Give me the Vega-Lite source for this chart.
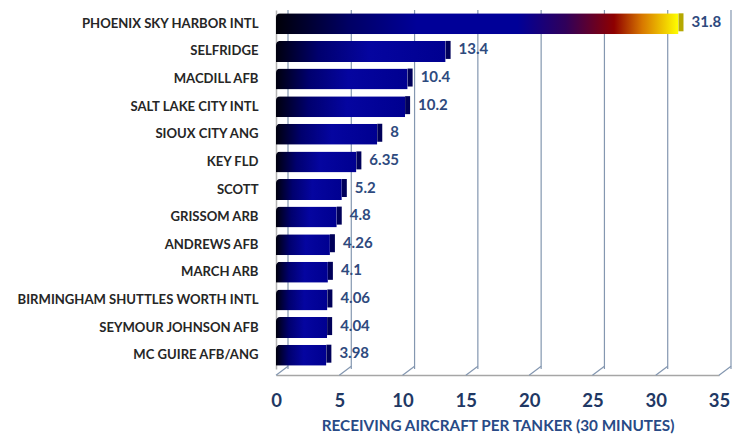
{
  "$schema": "https://vega.github.io/schema/vega-lite/v6.json",
  "width": 443,
  "height": 359,
  "autosize": {"type": "none"},
  "padding": {"left": 276, "top": 10, "right": 32, "bottom": 70},
  "background": "white",
  "config": {"view": {"stroke": null}, "font": "Lato"},
  "datasets": {
    "bars": [
      {"airport": "PHOENIX SKY HARBOR INTL", "value": 31.8, "label": "31.8"},
      {"airport": "SELFRIDGE", "value": 13.4, "label": "13.4"},
      {"airport": "MACDILL AFB", "value": 10.4, "label": "10.4"},
      {"airport": "SALT LAKE CITY INTL", "value": 10.2, "label": "10.2"},
      {"airport": "SIOUX CITY ANG", "value": 8, "label": "8"},
      {"airport": "KEY FLD", "value": 6.35, "label": "6.35"},
      {"airport": "SCOTT", "value": 5.2, "label": "5.2"},
      {"airport": "GRISSOM ARB", "value": 4.8, "label": "4.8"},
      {"airport": "ANDREWS AFB", "value": 4.26, "label": "4.26"},
      {"airport": "MARCH ARB", "value": 4.1, "label": "4.1"},
      {"airport": "BIRMINGHAM SHUTTLES WORTH INTL", "value": 4.06, "label": "4.06"},
      {"airport": "SEYMOUR JOHNSON AFB", "value": 4.04, "label": "4.04"},
      {"airport": "MC GUIRE AFB/ANG", "value": 3.98, "label": "3.98"}
    ],
    "grid": [{"v": 0}, {"v": 5}, {"v": 10}, {"v": 15}, {"v": 20}, {"v": 25}, {"v": 30}, {"v": 35}]
  },
  "encoding": {
    "y": {
      "field": "airport",
      "type": "nominal",
      "sort": ["PHOENIX SKY HARBOR INTL", "SELFRIDGE", "MACDILL AFB", "SALT LAKE CITY INTL", "SIOUX CITY ANG", "KEY FLD", "SCOTT", "GRISSOM ARB", "ANDREWS AFB", "MARCH ARB", "BIRMINGHAM SHUTTLES WORTH INTL", "SEYMOUR JOHNSON AFB", "MC GUIRE AFB/ANG"],
      "scale": {"paddingInner": 0.24, "paddingOuter": 0.12},
      "axis": {
        "title": null,
        "ticks": false,
        "labelFont": "Lato",
        "labelFontWeight": "bold",
        "labelFontSize": 13.1,
        "labelColor": "#262626",
        "labelPadding": 18,
        "labelLimit": 300,
        "domainColor": "#b4b4b4",
        "domainWidth": 1.5
      }
    }
  },
  "layer": [
    {
      "data": {"name": "grid"},
      "mark": {"type": "rule", "color": "#8497b0", "strokeWidth": 1.2, "xOffset": 12, "y2Offset": -3},
      "encoding": {
        "x": {"field": "v", "type": "quantitative", "scale": {"domain": [0, 35], "nice": false}},
        "y": null
      }
    },
    {
      "data": {"name": "grid"},
      "mark": {"type": "rule", "color": "#8497b0", "strokeWidth": 1.2, "yOffset": 20, "y2Offset": 11, "x2Offset": 12},
      "encoding": {
        "x": {"field": "v", "type": "quantitative"},
        "x2": {"field": "v"},
        "y": {"datum": "MC GUIRE AFB/ANG"},
        "y2": {"datum": "MC GUIRE AFB/ANG"}
      }
    },
    {
      "data": {"name": "bars"},
      "transform": [{"filter": "datum.value < 30"}],
      "mark": {
        "type": "bar",
        "cornerRadiusTopLeft": 4,
        "fill": {
          "gradient": "linear", "x1": 0, "x2": 1, "y1": 0, "y2": 0,
          "stops": [
            {"offset": 0, "color": "#00000e"},
            {"offset": 0.25, "color": "#00006e"},
            {"offset": 0.55, "color": "#0505a0"},
            {"offset": 1, "color": "#000090"}
          ]
        }
      },
      "encoding": {
        "x": {
          "field": "value", "type": "quantitative",
          "scale": {"domain": [0, 35], "nice": false},
          "axis": {
            "title": "RECEIVING AIRCRAFT PER TANKER (30 MINUTES)",
            "values": [0, 5, 10, 15, 20, 25, 30, 35],
            "grid": false,
            "ticks": false,
            "offset": 6,
            "labelFlush": false,
            "domainColor": "#a6a6a6",
            "domainWidth": 1.5,
            "labelFont": "Lato",
            "labelFontWeight": "bold",
            "labelFontSize": 18.5,
            "labelColor": "#1f3864",
            "labelPadding": 16,
            "titleFont": "Lato",
            "titleFontWeight": "bold",
            "titleFontSize": 15.3,
            "titleColor": "#284a86",
            "titlePadding": 9
          }
        }
      }
    },
    {
      "data": {"name": "bars"},
      "transform": [{"filter": "datum.value > 30"}],
      "mark": {
        "type": "bar",
        "cornerRadiusTopLeft": 4,
        "fill": {
          "gradient": "linear", "x1": 0, "x2": 1, "y1": 0, "y2": 0,
          "stops": [
            {"offset": 0, "color": "#000008"},
            {"offset": 0.18, "color": "#000064"},
            {"offset": 0.35, "color": "#000098"},
            {"offset": 0.6, "color": "#000098"},
            {"offset": 0.72, "color": "#30005a"},
            {"offset": 0.84, "color": "#8e0000"},
            {"offset": 0.91, "color": "#d87800"},
            {"offset": 1, "color": "#ffff00"}
          ]
        }
      },
      "encoding": {"x": {"field": "value", "type": "quantitative"}}
    },
    {
      "data": {"name": "bars"},
      "mark": {"type": "tick", "orient": "vertical", "thickness": 5, "size": 18, "xOffset": 2.5, "yOffset": -1.5, "opacity": 1},
      "encoding": {
        "x": {"field": "value", "type": "quantitative"},
        "color": {
          "condition": {"test": "datum.value > 30", "value": "#b5a800"},
          "value": "#00005a"
        }
      }
    },
    {
      "data": {"name": "bars"},
      "mark": {"type": "text", "align": "left", "baseline": "middle", "dx": 13, "dy": -2, "font": "Lato", "fontWeight": "bold", "fontSize": 15, "color": "#2e4a7e"},
      "encoding": {
        "x": {"field": "value", "type": "quantitative"},
        "text": {"field": "label"}
      }
    }
  ]
}
